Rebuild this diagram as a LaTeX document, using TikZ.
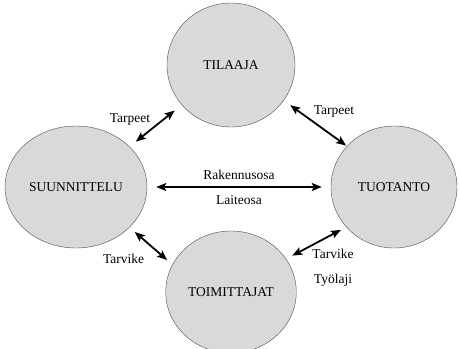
\documentclass[tikz,border=0pt]{standalone}
\usepackage{fontspec}
\setmainfont{Liberation Serif}
\usetikzlibrary{shapes, arrows.meta, positioning}
\tikzstyle{party} = [ellipse, draw=black!70, fill=black!15, minimum width=126pt, minimum height=122pt, text centered, font=\fontsize{13.5}{16}\selectfont]
\tikzstyle{line} = [draw, line width=1.8pt, {Stealth[length=10pt,width=8pt,inset=2pt]}-{Stealth[length=10pt,width=8pt,inset=2pt]}]
\tikzstyle{lbl} = [font=\fontsize{13.5}{16}\selectfont, inner sep=2pt]

\begin{document}
\begin{tikzpicture}[x=1pt, y=-1pt]
    \useasboundingbox (0,0) rectangle (460,348);
    \node[party, minimum width=128pt, minimum height=124pt](tilaaja) at (231,65){TILAAJA};
    \node[party](suunnittelu) at (76,187){SUUNNITTELU};
    \node[party](tuotanto) at (394,187){TUOTANTO};
    \node[party](toimittajat) at (231,292){TOIMITTAJAT};

    \path[line, shorten <=8pt, shorten >=9pt] (suunnittelu.37) -- node[lbl, pos=0.45, anchor=south east]{Tarpeet} (tilaaja.-141);
    \path[line, shorten <=8pt, shorten >=1pt] (tilaaja.-34) -- node[lbl, pos=0.43, anchor=south west]{Tarpeet} (tuotanto.139);
    \path[line, shorten <=9pt, shorten >=9pt] (suunnittelu) -- node[lbl, above=4pt]{Rakennusosa} node[lbl, below=6pt]{Laiteosa} (tuotanto);
    \path[line, shorten <=7pt, shorten >=7pt] (suunnittelu.-37) -- node[lbl, pos=0.85, left=19pt]{Tarvike} (toimittajat.155);
    \path[line, shorten <=6pt, shorten >=7pt] (tuotanto.-140) -- node[lbl, pos=0.61, anchor=north west](tarvike){Tarvike} (toimittajat.31);
    \node[lbl, below=10pt of tarvike](tyolaji){Työlaji};
\end{tikzpicture}
\end{document}
